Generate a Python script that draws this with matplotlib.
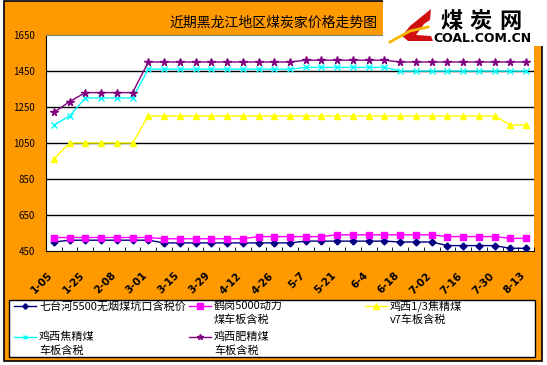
import numpy as np
import matplotlib
matplotlib.use("Agg")
import matplotlib.pyplot as plt
import matplotlib.transforms as mtransforms
from matplotlib.patches import Rectangle, Polygon
from matplotlib.lines import Line2D

plt.rcParams['font.family'] = ['Noto Sans CJK SC', 'DejaVu Sans']

title = '近期黑龙江地区煤炭家价格走势图'
date_labels = ['1-05', '1-25', '2-08', '3-01', '3-15', '3-29', '4-12', '4-26',
               '5-7', '5-21', '6-4', '6-18', '7-02', '7-16', '7-30', '8-13']

qitaihe = [500, 510, 510, 510, 510, 510, 510, 495, 495, 495, 495, 495, 495, 495, 495, 495,
           505, 505, 505, 505, 505, 505, 500, 500, 500, 480, 480, 480, 480, 465, 465]
hegang = [525, 525, 525, 525, 525, 525, 525, 518, 518, 518, 518, 518, 518, 530, 530, 530,
          530, 530, 540, 540, 540, 540, 540, 540, 540, 530, 530, 530, 530, 520, 520]
jixi_13 = [960, 1050, 1050, 1050, 1050, 1050, 1200, 1200, 1200, 1200, 1200, 1200, 1200, 1200,
           1200, 1200, 1200, 1200, 1200, 1200, 1200, 1200, 1200, 1200, 1200, 1200, 1200, 1200,
           1200, 1150, 1150]
jixi_jiao = [1150, 1200, 1300, 1300, 1300, 1300, 1460, 1460, 1460, 1460, 1460, 1460, 1460, 1460,
             1460, 1460, 1470, 1470, 1470, 1470, 1470, 1470, 1450, 1450, 1450, 1450, 1450, 1450,
             1450, 1450, 1450]
jixi_fei = [1220, 1280, 1330, 1330, 1330, 1330, 1500, 1500, 1500, 1500, 1500, 1500, 1500, 1500,
            1500, 1500, 1510, 1510, 1510, 1510, 1510, 1510, 1500, 1500, 1500, 1500, 1500, 1500,
            1500, 1500, 1500]

series = [qitaihe, hegang, jixi_13, jixi_jiao, jixi_fei]
names = ['七台河5500无烟煤坑口含税价', '鹤岗5000动力\n煤车板含税', '鸡西1/3焦精煤\nv7车板含税',
         '鸡西焦精煤\n车板含税', '鸡西肥精煤\n车板含税']
colors = ['#000080', '#FF00FF', '#FFFF00', '#00FFFF', '#800080']
markers = ['D', 's', '^', 'x', '*']
msizes = [3.5, 5, 5, 4, 5.5]

W, H = 547, 365


def fx(x):
    return x / W


def fy(y):
    return 1 - y / H


fig = plt.figure(figsize=(5.47, 3.65), dpi=100, facecolor='white')

# orange frame
fig.add_artist(Rectangle((fx(4), fy(361)), fx(538), 360 / H, transform=fig.transFigure,
                         facecolor='#FF9900', edgecolor='black', linewidth=1.2, zorder=0))

ax = fig.add_axes([fx(46), fy(251), fx(488), 216 / H])
ax.set_facecolor('white')

x = np.arange(len(qitaihe))
for vals, c, m, ms in zip(series, colors, markers, msizes):
    ax.plot(x, vals, color=c, marker=m, markersize=ms, linewidth=1,
            markeredgecolor=c, markeredgewidth=1, zorder=3)

ax.set_xlim(-0.5, len(x) - 0.5)
ax.set_ylim(450, 1650)
ax.set_yticks(np.arange(450, 1651, 200))
ax.tick_params(axis='y', length=0, pad=8, labelsize=7)
for yv in range(650, 1451, 200):
    ax.axhline(yv, color='black', linewidth=1, zorder=1)

ax.set_xticks(np.arange(-0.5, len(x), 1), minor=True)
ax.tick_params(axis='x', which='minor', direction='in', length=3, color='black')
ax.set_xticks(x[::2])
ax.set_xticklabels(date_labels, rotation=45, ha='right', rotation_mode='anchor',
                   fontsize=7.5, fontweight='bold', family='DejaVu Sans')
ax.tick_params(axis='x', which='major', length=0, pad=14)
shift = mtransforms.ScaledTranslation(-6 / 100, 0, fig.dpi_scale_trans)
for lab in ax.get_xticklabels():
    lab.set_transform(lab.get_transform() + shift)

ax.spines['right'].set_visible(False)
ax.spines['top'].set_color('#808080')
ax.spines['left'].set_color('black')
ax.spines['bottom'].set_color('black')

# title
fig.text(fx(274), fy(23), title, fontsize=10, ha='center', va='center')

# logo block
fig.add_artist(Rectangle((fx(383), fy(46)), fx(164), 46 / H, transform=fig.transFigure,
                         facecolor='white', edgecolor='none', zorder=5))
fig.add_artist(Polygon([(fx(431), fy(9)), (fx(410), fy(26)), (fx(402), fy(36)), (fx(408), fy(41)),
                        (fx(433), fy(41)), (fx(431), fy(36)), (fx(416), fy(35)), (fx(424), fy(24)),
                        (fx(430), fy(20))],
                       closed=True, transform=fig.transFigure, facecolor='#D01010',
                       edgecolor='none', zorder=6))
fig.add_artist(Line2D([fx(390), fx(410), fx(428)], [fy(42), fy(31), fy(27)],
                      transform=fig.transFigure, color='#F5B800', linewidth=2, zorder=7))
for ch, cx in zip('煤炭网', [452, 481, 510]):
    fig.text(fx(cx), fy(21), ch, fontsize=16, fontweight='black', ha='center', va='center',
             zorder=8)
fig.text(fx(482), fy(38), 'COAL.COM.CN', fontsize=9, fontweight='bold', ha='center',
         va='center', family='DejaVu Sans', zorder=8)

# legend box
fig.add_artist(Rectangle((fx(9), fy(357)), fx(526), 57 / H, transform=fig.transFigure,
                         facecolor='white', edgecolor='black', linewidth=1, zorder=2))
leg_x = [14, 189, 365, 14, 189]
leg_y = [306, 306, 306, 337, 337]
for name, c, m, ms, lx, ly in zip(names, colors, markers, msizes, leg_x, leg_y):
    fig.add_artist(Line2D([fx(lx), fx(lx + 22)], [fy(ly), fy(ly)], transform=fig.transFigure,
                          color=c, linewidth=1, zorder=3))
    fig.add_artist(Line2D([fx(lx + 11)], [fy(ly)], transform=fig.transFigure, color=c,
                          marker=m, markersize=ms * 0.8, markeredgecolor=c, zorder=3))
    for k, line in enumerate(name.split('\n')):
        fig.text(fx(lx + 25), fy(ly + 14 * k), line, fontsize=8, ha='left', va='center',
                 zorder=4)

fig.savefig('out.png', dpi=100, facecolor=fig.get_facecolor())
